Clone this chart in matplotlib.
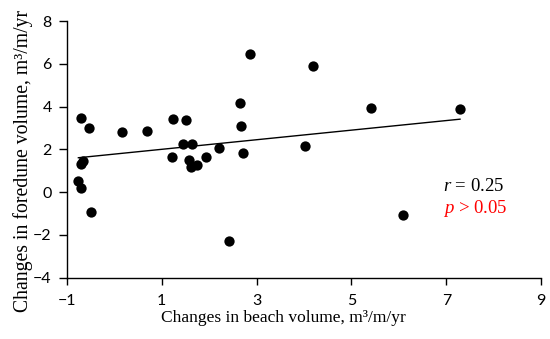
import matplotlib
matplotlib.use("Agg")
import matplotlib.pyplot as plt
import numpy as np

plt.rcParams['mathtext.fontset'] = 'custom'
plt.rcParams['mathtext.rm'] = 'Liberation Serif'
plt.rcParams['mathtext.it'] = 'Liberation Serif:italic'

beach = [-0.70, -0.54, 0.15, 0.69, 1.23, 1.51, 2.87, 2.65, 2.67, 1.45, 1.64, 2.21,
         1.22, 1.93, 2.71, 4.02, 4.18, 5.41, 7.29, 6.08, -0.70, -0.66, -0.76, -0.71,
         -0.49, 1.58, 1.62, 1.74, 2.42]
foredune = [3.46, 2.99, 2.80, 2.88, 3.42, 3.35, 6.45, 4.16, 3.08, 2.27, 2.24, 2.08,
            1.66, 1.62, 1.82, 2.15, 5.91, 3.93, 3.89, -1.07, 1.33, 1.44, 0.52, 0.21,
            -0.95, 1.49, 1.18, 1.27, -2.30]
trend_slope = 0.224
trend_intercept = 1.777
xticks = [-1, 1, 3, 5, 7, 9]
yticks = [-4, -2, 0, 2, 4, 6, 8]

fig = plt.figure(figsize=(5.5, 3.39), dpi=100)
ax = fig.add_axes([0.1218, 0.181, 0.862, 0.757])

ax.scatter(beach, foredune, s=55, color='black', zorder=3, linewidths=0)
xl = np.array([min(beach), max(beach)])
ax.plot(xl, trend_intercept + trend_slope * xl, color='black', lw=1.0)

ax.set_xlim(-1, 9)
ax.set_ylim(-4, 8)
ax.set_xticks(xticks)
ax.set_yticks(yticks)
ax.set_xticklabels(['\u22121', '1', '3', '5', '7', '9'], family='Lato', fontsize=11.5)
ax.set_yticklabels(['\u22124', '\u22122', '0', '2', '4', '6', '8'], family='Lato', fontsize=11.5)
for s in ['top', 'right']:
    ax.spines[s].set_visible(False)
for s in ['left', 'bottom']:
    ax.spines[s].set_linewidth(1.0)
ax.tick_params(axis='x', direction='out', length=5, width=1.0, pad=7)
ax.tick_params(axis='y', direction='out', length=6, width=1.0, pad=5)

ax.set_xlabel('Changes in beach volume, m\u00b3/m/yr', family='Liberation Serif', fontsize=12.5, va='center')
ax.xaxis.set_label_coords(0.456, -0.157)
ax.set_ylabel('Changes in foredune volume, m\u00b3/m/yr', family='Liberation Serif', fontsize=14.2, va='center')
ax.yaxis.set_label_coords(-0.093, 0.455)

ax.text(6.93, 0.24, r'$r$ = 0.25', family='Liberation Serif', fontsize=13.5, color='black', va='center')
ax.text(6.93, -0.76, r'$p$ > 0.05', family='Liberation Serif', fontsize=13.5, color='red', va='center')

fig.savefig('out.png', dpi=100)
